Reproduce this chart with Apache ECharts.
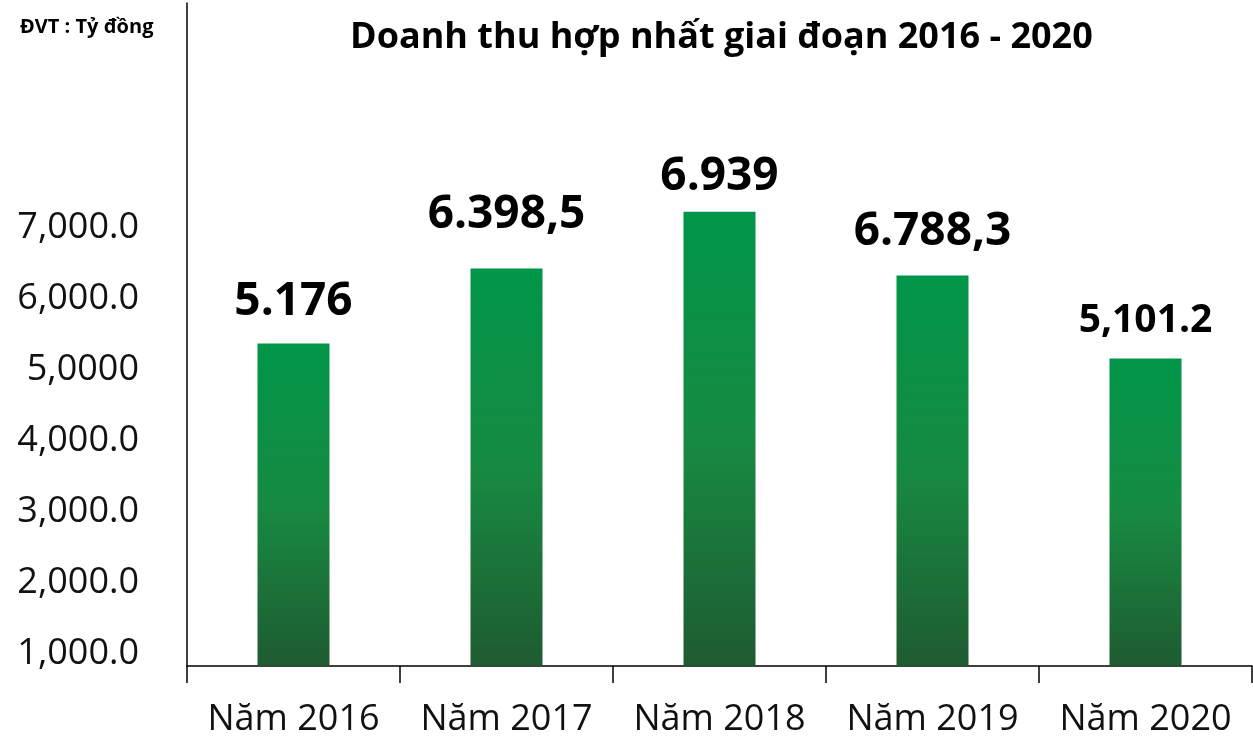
<!DOCTYPE html>
<html>
<head>
<meta charset="utf-8">
<script src="https://cdn.jsdelivr.net/npm/echarts@6/dist/echarts.min.js"></script>
<style>
html,body{margin:0;padding:0;background:#fff;}
#chart{width:1253px;height:738px;}
</style>
</head>
<body>
<div id="chart"></div>
<script>
// ---- data ----
var categories = ['Năm 2016', 'Năm 2017', 'Năm 2018', 'Năm 2019', 'Năm 2020'];
// bar heights as read against the drawn y axis
var barValues = [5370, 6424, 7225, 6326, 5159];
// value labels as printed on the chart
var valueLabels = ['5.176', '6.398,5', '6.939', '6.788,3', '5,101.2'];
// y-axis tick labels as printed
var yTickValues = [1000, 2000, 3000, 4000, 5000, 6000, 7000];
var yTickLabels = ['1,000.0', '2,000.0', '3,000.0', '4,000.0', '5,0000', '6,000.0', '7,000.0'];
var titleText = 'Doanh thu hợp nhất giai đoạn 2016 - 2020';
var unitText = 'ĐVT : Tỷ đồng';

// ---- label styling (not data) ----
var labelGaps = [19, 31, 12, 21, 18];
var labelSizes = [46, 46, 46, 46, 39];

var chart = echarts.init(document.getElementById('chart'), null, {renderer: 'canvas'});

var seriesData = barValues.map(function (v, i) {
  return {
    value: v,
    label: {
      show: true,
      position: 'top',
      distance: labelGaps[i],
      fontSize: labelSizes[i],
      fontWeight: 'bold',
      fontFamily: 'Open Sans',
      color: '#000',
      formatter: function () { return valueLabels[i]; }
    }
  };
});

var option = {
  backgroundColor: '#fff',
  animation: false,
  title: [
    {
      text: titleText,
      left: 345,
      top: 15,
      textStyle: {fontFamily: 'Open Sans', fontWeight: 'bold', fontSize: 36, color: '#000'}
    },
    {
      text: unitText,
      left: 15,
      top: 12,
      textStyle: {fontFamily: 'Open Sans', fontWeight: 'bold', fontSize: 20, color: '#000'}
    }
  ],
  grid: {left: 187, right: 1, top: 3, bottom: 71, containLabel: false},
  xAxis: {
    type: 'category',
    data: categories,
    boundaryGap: true,
    axisLine: {show: true, lineStyle: {color: '#000', width: 1.5}},
    axisTick: {show: true, length: 17, interval: 0, alignWithLabel: false, lineStyle: {color: '#000', width: 1.5}},
    axisLabel: {
      interval: 0,
      margin: 36,
      fontSize: 36,
      fontFamily: 'Open Sans',
      color: '#111'
    },
    splitLine: {show: false}
  },
  yAxis: {
    type: 'value',
    min: 831,
    max: 10161,
    splitNumber: 9,
    axisLine: {show: true, lineStyle: {color: '#000', width: 1.5}},
    axisTick: {show: false},
    splitLine: {show: false},
    axisLabel: {
      showMinLabel: false,
      showMaxLabel: false,
      margin: 48,
      fontSize: 36,
      fontFamily: 'Open Sans',
      color: '#111',
      formatter: function (v) {
        var idx = yTickValues.indexOf(Math.round(v));
        return idx >= 0 ? yTickLabels[idx] : '';
      }
    }
  },
  series: [{
    type: 'bar',
    data: seriesData,
    barWidth: 72,
    itemStyle: {
      color: new echarts.graphic.LinearGradient(0, 0, 0, 1, [
        {offset: 0, color: '#009649'},
        {offset: 0.5, color: '#178a42'},
        {offset: 1, color: '#1f5b31'}
      ])
    }
  }]
};
chart.setOption(option);
</script>
</body>
</html>
